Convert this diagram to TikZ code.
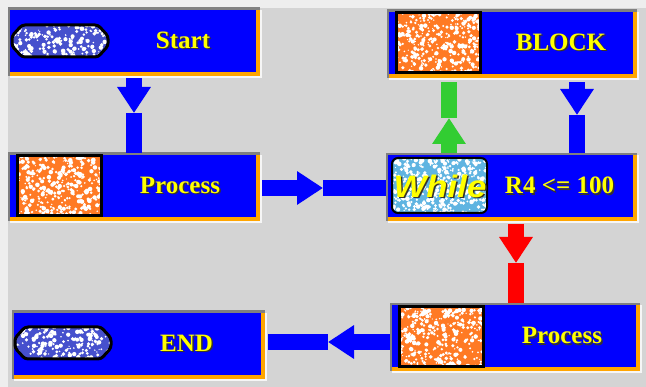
\documentclass[tikz,border=0pt]{standalone}
\usepackage{fontspec}
\setmainfont{Liberation Serif}
\newfontfamily\whilefont[FakeStretch=1.12]{Liberation Sans}
\usetikzlibrary{arrows.meta}

\definecolor{panel}{RGB}{212,212,212}
\definecolor{strip}{RGB}{238,238,238}
\definecolor{boxblue}{RGB}{0,0,255}
\definecolor{rim}{RGB}{255,165,0}
\definecolor{frame}{RGB}{128,128,128}
\definecolor{edge}{RGB}{246,246,246}
\definecolor{patchorange}{RGB}{255,122,36}
\definecolor{pillblue}{RGB}{70,80,205}
\definecolor{icewhile}{RGB}{95,180,225}
\definecolor{okgreen}{RGB}{50,205,50}
\definecolor{txtyellow}{RGB}{255,255,0}

% yellow text with a dark drop edge
\newcommand\shadowed[1]{\rlap{\color{black!80!olive}\hspace{1.5pt}\raisebox{-1.5pt}{#1}}\textcolor{txtyellow}{#1}}
% white speckles: x y w h count
\newcommand\speckle[5]{\foreach \k in {1,...,#5}{\fill[white] ({#1+rnd*#3},{#2+rnd*#4}) circle ({0.6+rnd*1.7});}}
% orange picture patch, 84x60
\newcommand\patch[2]{%
  \begin{scope}
    \clip (#1,#2) rectangle ++(84,60);
    \fill[patchorange] (#1,#2) rectangle ++(84,60);
    \speckle{#1}{#2}{84}{60}{330}
  \end{scope}
  \draw[line width=3] (#1,#2) rectangle ++(84,60);}
% blue pill, 96x32
\newcommand\pill[2]{%
  \begin{scope}[shift={(#1,#2)}, rounded corners=3]
    \clip (10,0) -- (86,0) -- (96,11) -- (96,21) -- (86,32) -- (10,32) -- (0,21) -- (0,11) -- cycle;
    \fill[pillblue] (-2,-2) rectangle (98,34);
    \speckle{0}{0}{96}{32}{190}
  \end{scope}
  \draw[shift={(#1,#2)}, rounded corners=3, line width=3] (10,0) -- (86,0) -- (96,11) -- (96,21) -- (86,32) -- (10,32) -- (0,21) -- (0,11) -- cycle;}

\tikzset{
  panelbox/.style={rectangle, inner sep=0pt, minimum width=#1, minimum height=68pt, fill=rim,
    preaction={fill=edge, transform canvas={shift={(2pt,-2pt)}}},
    path picture={
      \fill[boxblue] ([shift={(2pt,-2pt)}]path picture bounding box.north west) rectangle ([shift={(-4pt,4pt)}]path picture bounding box.south east);
      \draw[frame, line width=4pt] (path picture bounding box.south west) -- (path picture bounding box.north west) -- (path picture bounding box.north east);}},
  lbl/.style={font=\bfseries\fontsize{25}{25}\selectfont, inner sep=0pt, yshift=1pt},
  pipe/.style={draw=#1, line width=16pt},
  arrowhd/.style={-{Triangle[width=32pt,length=26pt]}}
}

\begin{document}
\begin{tikzpicture}[x=1pt, y=-1pt]
  \useasboundingbox (0,0) rectangle (646,387);
  \fill[strip] (0,0) rectangle (646,387);
  \fill[panel] (8,8) rectangle (646,387);
  \pgfmathsetseed{17}

  \node[panelbox=252pt] (startbox) at (134,42) {};
  \node[panelbox=252pt] (proclbox) at (134,187) {};
  \node[panelbox=250pt] (blockbox) at (512,44) {};
  \node[panelbox=251pt] (loopbox) at (511.5,187.5) {};
  \node[panelbox=250pt] (procrbox) at (515,337.5) {};
  \node[panelbox=253pt] (finishbox) at (138.5,345) {};

  \pill{12}{25}
  \patch{17}{156}
  \patch{396}{13}
  \patch{399}{307}
  \pill{15}{327}

  % while picture
  \begin{scope}
    \clip[rounded corners=6] (392,158) rectangle (487,213);
    \fill[icewhile] (392,158) rectangle (487,213);
    \speckle{392}{158}{95}{55}{420}
  \end{scope}
  \draw[rounded corners=6, line width=2] (392,158) rectangle (487,213);
  \node[font=\whilefont\bfseries\itshape\fontsize{31}{31}\selectfont, inner sep=0pt] (whiletxt) at (440,187) {\shadowed{While}};

  \node[lbl] (starttxt) at ([xshift=49pt]startbox.center) {\shadowed{Start}};
  \node[lbl] (procltxt) at ([xshift=46pt]proclbox.center) {\shadowed{Process}};
  \node[lbl] (blocktxt) at ([xshift=49pt]blockbox.center) {\shadowed{BLOCK}};
  \node[lbl] (looptxt) at ([xshift=48pt]loopbox.center) {\shadowed{R4 <= 100}};
  \node[lbl] (procrtxt) at ([xshift=47pt]procrbox.center) {\shadowed{Process}};
  \node[lbl] (finishtxt) at ([xshift=48pt]finishbox.center) {\shadowed{END}};

  % connectors
  \coordinate (t1) at (134,113);
  \draw[pipe=boxblue, arrowhd, shorten <=2pt] (startbox.south) -- (t1);
  \draw[pipe=boxblue] (t1) -- (proclbox.north);

  \coordinate (t2) at (323,188);
  \draw[pipe=boxblue, arrowhd, shorten <=2pt] (proclbox.east |- t2) -- (t2);
  \draw[pipe=boxblue] (t2) -- (loopbox.west |- t2);

  \coordinate (t3) at (449,118);
  \draw[pipe=okgreen, arrowhd] (loopbox.north -| t3) -- (t3);
  \draw[pipe=okgreen, shorten >=4pt] (t3) -- (blockbox.south -| t3);

  \coordinate (t4) at (577,115);
  \draw[pipe=boxblue, arrowhd, shorten <=4pt] (blockbox.south -| t4) -- (t4);
  \draw[pipe=boxblue] (t4) -- (loopbox.north -| t4);

  \coordinate (t5) at (516,263);
  \draw[pipe=red, arrowhd, shorten <=2pt] (loopbox.south -| t5) -- (t5);
  \draw[pipe=red] (t5) -- (procrbox.north -| t5);

  \coordinate (t6) at (328,342);
  \draw[pipe=boxblue, arrowhd] (procrbox.west |- t6) -- (t6);
  \draw[pipe=boxblue, shorten >=3pt] (t6) -- (finishbox.east |- t6);
\end{tikzpicture}
\end{document}
